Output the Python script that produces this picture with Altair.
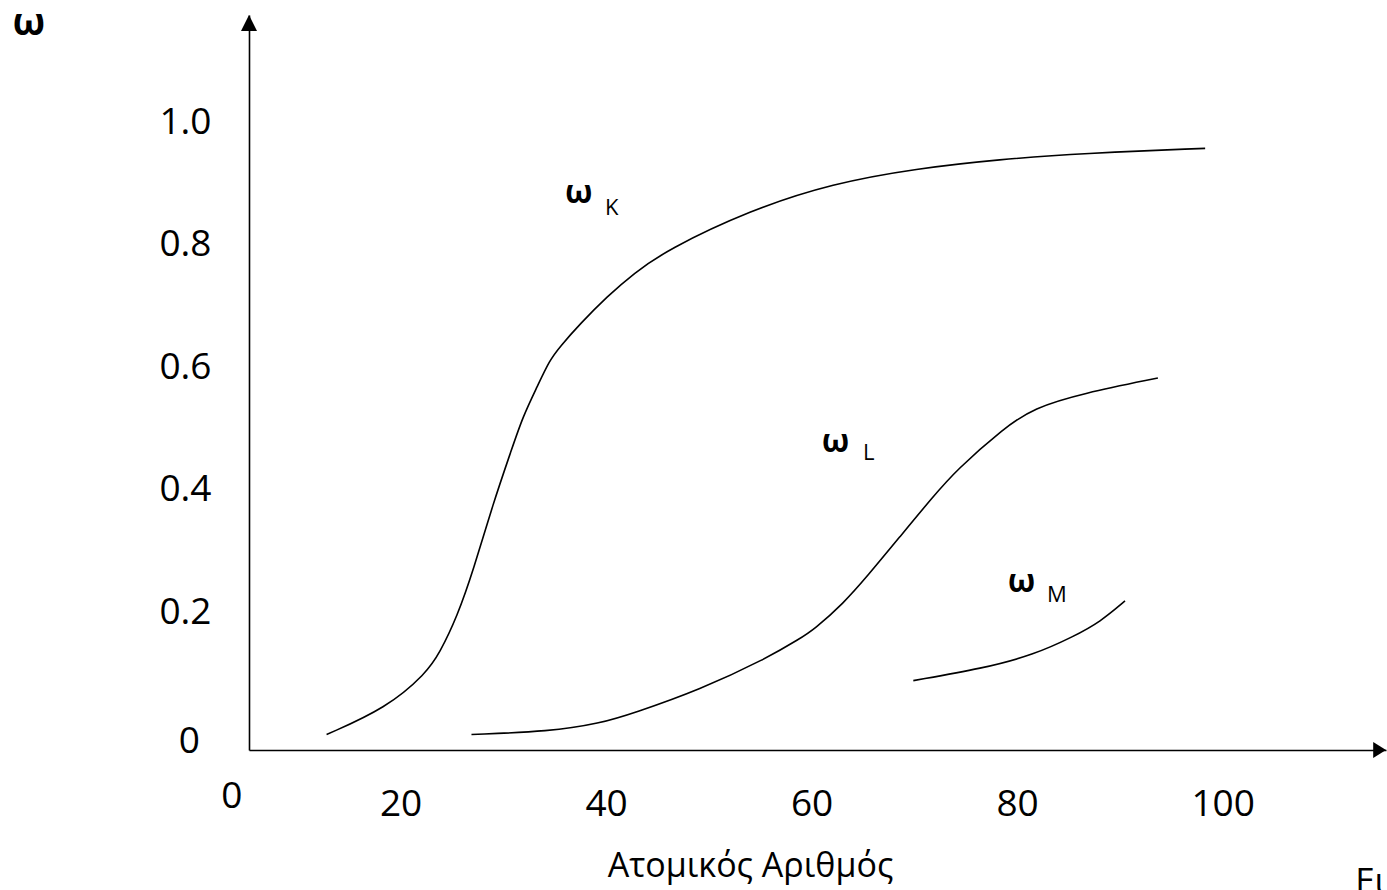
import altair as alt
import pandas as pd

FONT = "Open Sans"

# Scale domains (axis origin to arrow tips)
X_DOMAIN = [5.25, 115.9]
Y_DOMAIN = [-0.0253, 1.1747]

# Tick values
x_ticks = [20, 40, 60, 80, 100]
y_ticks = [0.2, 0.4, 0.6, 0.8, 1.0]

# omega_K curve
k_z = [12.8, 18.6, 22.5, 23.8, 25.5, 27.1, 29.0, 30.8, 31.9, 33.3, 34.5, 35.5,
       37.5, 40.1, 42.7, 45.9, 54.0, 62.1, 70.2, 78.3, 86.4, 98.3]
k_w = [0.0, 0.043, 0.100, 0.133, 0.192, 0.269, 0.377, 0.465, 0.519, 0.568, 0.611,
       0.633, 0.671, 0.715, 0.753, 0.791, 0.856, 0.900, 0.924, 0.939, 0.949, 0.957]

# omega_L curve
l_z = [26.9, 34.5, 39.4, 42.7, 49.1, 55.6, 58.9, 60.2, 63.1, 65.4, 68.6, 71.8,
       74.1, 78.7, 81.6, 86.4, 93.7]
l_w = [0.0, 0.005, 0.018, 0.035, 0.073, 0.124, 0.157, 0.171, 0.214, 0.258, 0.323,
       0.388, 0.432, 0.500, 0.533, 0.557, 0.582]

# omega_M curve
m_z = [69.9, 76.7, 81.6, 85.5, 88.1, 90.5]
m_w = [0.088, 0.108, 0.130, 0.160, 0.184, 0.218]

# Curve labels: omega + subscript
lab_names = ["K", "L", "M"]
lab_omega_z = [36.0, 61.0, 79.1]
lab_omega_w = [0.868, 0.461, 0.233]
lab_sub_z = [39.9, 65.0, 82.9]
lab_sub_w = [0.848, 0.448, 0.216]

rows = []
for name, zs, ws in [("K", k_z, k_w), ("L", l_z, l_w), ("M", m_z, m_w)]:
    rows += [{"series": name, "Z": z, "w": w} for z, w in zip(zs, ws)]
df = pd.DataFrame(rows)

x_enc = alt.X(
    "Z:Q",
    scale=alt.Scale(domain=X_DOMAIN, nice=False, zero=False),
    axis=alt.Axis(
        values=x_ticks, format="d", ticks=False, grid=False,
        labelFontSize=37, labelPadding=36, labelColor="black", labelFont=FONT,
        domainColor="black", domainWidth=1.6,
        title="Ατομικός Αριθμός", titleFont=FONT, titleFontSize=34,
        titleFontWeight="normal", titleColor="black",
        titleX=501, titleY=126, titleAlign="center", titleBaseline="alphabetic",
    ),
)
y_enc = alt.Y(
    "w:Q",
    scale=alt.Scale(domain=Y_DOMAIN, nice=False, zero=False),
    axis=alt.Axis(
        values=y_ticks, format=".1f", ticks=False, grid=False,
        labelFontSize=37, labelPadding=38, labelColor="black", labelFont=FONT,
        domainColor="black", domainWidth=1.6,
        title="ω", titleFont=FONT, titleFontSize=38, titleFontWeight="bold",
        titleColor="black", titleAngle=0, titleX=-237, titleY=19,
        titleAlign="left", titleBaseline="alphabetic",
    ),
)

lines = alt.Chart(df).mark_line(
    color="black", strokeWidth=1.6, interpolate="basis"
).encode(x=x_enc, y=y_enc, detail="series:N")

omega_df = pd.DataFrame({"Z": lab_omega_z, "w": lab_omega_w, "t": ["ω"] * 3})
sub_df = pd.DataFrame({"Z": lab_sub_z, "w": lab_sub_w, "t": lab_names})

omegas = alt.Chart(omega_df).mark_text(
    font=FONT, fontSize=32, fontWeight="bold", color="black",
    align="left", baseline="alphabetic",
).encode(x=x_enc, y=y_enc, text="t:N")

subs = alt.Chart(sub_df).mark_text(
    font=FONT, fontSize=22, color="black", align="left", baseline="alphabetic",
).encode(x=x_enc, y=y_enc, text="t:N")

# Origin labels "0" (placed separately in the original drawing)
zero_y = alt.Chart(pd.DataFrame({"Z": [0.48], "w": [-0.013], "t": ["0"]})).mark_text(
    font=FONT, fontSize=37, color="black", align="right", baseline="middle",
).encode(x=x_enc, y=y_enc, text="t:N")
zero_x = alt.Chart(pd.DataFrame({"Z": [3.59], "w": [-0.12], "t": ["0"]})).mark_text(
    font=FONT, fontSize=37, color="black", align="center", baseline="alphabetic",
).encode(x=x_enc, y=y_enc, text="t:N")

# Cut-off caption at bottom right
caption = alt.Chart(pd.DataFrame({"Z": [112.9], "w": [-0.2588], "t": ["Εικόνα"]})).mark_text(
    font=FONT, fontSize=35, color="black", align="left", baseline="alphabetic",
).encode(x=x_enc, y=y_enc, text="t:N")

# Axis arrow heads
arrow_up = alt.Chart(pd.DataFrame({"Z": [X_DOMAIN[0]], "w": [Y_DOMAIN[1]]})).mark_point(
    shape="M0,0L-1,2L1,2Z", filled=True, size=256, color="black", opacity=1,
).encode(x=x_enc, y=y_enc)
arrow_right = alt.Chart(pd.DataFrame({"Z": [X_DOMAIN[1]], "w": [Y_DOMAIN[0]]})).mark_point(
    shape="M0,0L-1.6,-1L-1.6,1Z", filled=True, size=256, color="black", opacity=1,
).encode(x=x_enc, y=y_enc)

chart = alt.layer(
    lines, omegas, subs, zero_y, zero_x, caption, arrow_up, arrow_right
).properties(
    width=1137, height=735,
    autosize=alt.AutoSizeParams(type="none"),
    padding={"left": 249, "top": 15, "right": 1, "bottom": 140},
    background="white",
).configure_view(stroke=None)

chart.save("out.html", embed_options={"renderer": "svg", "actions": False})
